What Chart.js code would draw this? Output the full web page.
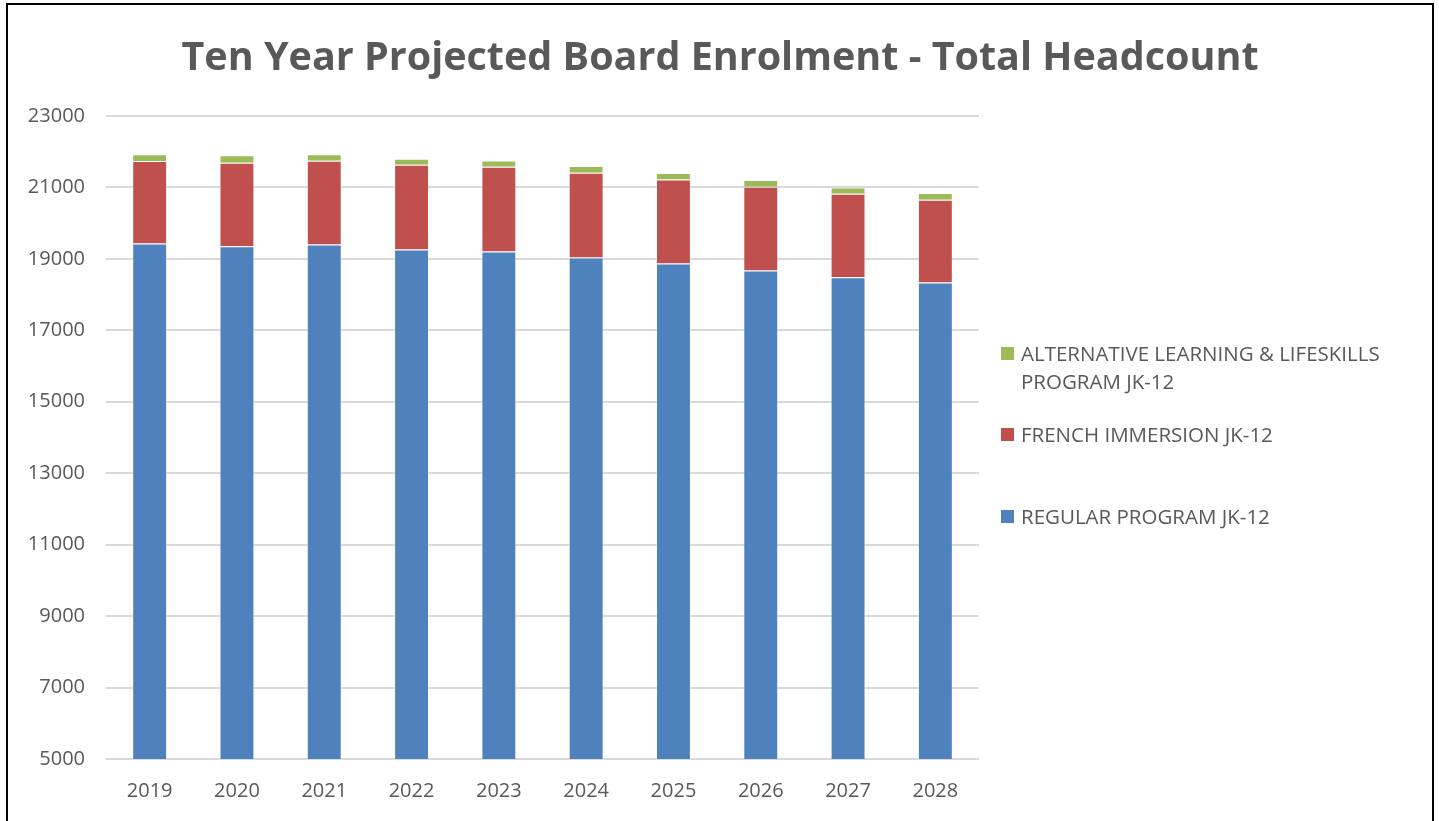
<!DOCTYPE html>
<html>
<head>
<meta charset="utf-8">
<script src="https://cdn.jsdelivr.net/npm/chart.js@4.4.1/dist/chart.umd.min.js"></script>
<style>
    body { margin: 0; background: #fff; overflow: hidden; }
    #frame {
        position: absolute; left: 6px; top: 3px;
        width: 1424px; height: 830px;
        border: 2px solid #000;
    }
    #chart { display: block; }
    .legend-item {
        position: absolute; left: 993px;
        display: flex; align-items: flex-start;
        font-family: "Open Sans", sans-serif; font-size: 20.5px;
        line-height: 28px; color: #595959;
    }
    .legend-box { width: 13px; height: 13px; margin-top: 8px; margin-right: 7px; flex: none; }
    .legend-text { width: 390px; }
</style>
</head>
<body>
<div id="frame">
    <canvas id="chart" width="1424" height="816"></canvas>
</div>
<script>
const years = ['2019', '2020', '2021', '2022', '2023', '2024', '2025', '2026', '2027', '2028'];
const regularProgram = [19430, 19355, 19400, 19260, 19205, 19040, 18870, 18673, 18486, 18337];
const frenchImmersion = [2308, 2336, 2345, 2375, 2373, 2370, 2355, 2345, 2335, 2316];
const alternativeLearning = [188, 207, 187, 168, 179, 188, 177, 187, 180, 188];
const seriesNames = ['REGULAR PROGRAM JK-12', 'FRENCH IMMERSION JK-12', 'ALTERNATIVE LEARNING & LIFESKILLS PROGRAM JK-12'];
const seriesColors = ['#4F81BD', '#C0504D', '#9BBB59'];
const yTicks = [5000, 7000, 9000, 11000, 13000, 15000, 17000, 19000, 21000, 23000];
const chartTitle = 'Ten Year Projected Board Enrolment - Total Headcount';

const textColor = '#595959';
const tickFont = { family: '"Open Sans", sans-serif', size: 20 };

// title centred over the whole canvas, not only the plot + padding
const centeredTitle = {
    id: 'centeredTitle',
    afterDraw(chart) {
        const ctx = chart.ctx;
        ctx.save();
        ctx.font = 'bold 39.5px "Open Sans", sans-serif';
        ctx.fillStyle = textColor;
        ctx.textAlign = 'center';
        ctx.textBaseline = 'alphabetic';
        ctx.fillText(chartTitle, chart.width / 2, 65);
        ctx.restore();
    }
};

const chart = new Chart(document.getElementById('chart'), {
    type: 'bar',
    data: {
        labels: years,
        datasets: [regularProgram, frenchImmersion, alternativeLearning].map((values, i) => ({
            label: seriesNames[i],
            data: values,
            backgroundColor: seriesColors[i],
            borderColor: 'rgba(255,255,255,0.35)',
            borderWidth: 1,
            barPercentage: 0.4,
            categoryPercentage: 1
        }))
    },
    options: {
        responsive: false,
        animation: false,
        layout: {
            padding: { left: 0, right: 453, top: 111, bottom: 0 }
        },
        plugins: {
            legend: { display: false },
            tooltip: { enabled: false },
            title: { display: false }
        },
        scales: {
            x: {
                stacked: true,
                grid: { display: false, drawTicks: false },
                border: { display: false },
                ticks: { color: textColor, font: tickFont, padding: 20 },
                afterFit: (scale) => { scale.height = 62; }
            },
            y: {
                stacked: true,
                min: 5000,
                max: 23000,
                afterBuildTicks: (scale) => { scale.ticks = yTicks.map(v => ({ value: v })); },
                grid: { color: '#D9D9D9', lineWidth: 2, drawTicks: false },
                border: { display: false },
                ticks: { color: textColor, font: tickFont, padding: 21, callback: (v) => String(v) },
                afterFit: (scale) => { scale.width = 98; }
            }
        }
    },
    plugins: [centeredTitle]
});

// legend on the right, top-to-bottom in reverse series order
const legendTops = [334, 415, 497];
const frame = document.getElementById('frame');
chart.data.datasets.slice().reverse().forEach((ds, i) => {
    const item = document.createElement('div');
    item.className = 'legend-item';
    item.style.top = legendTops[i] + 'px';
    item.innerHTML = '<span class="legend-box" style="background:' + ds.backgroundColor + '"></span>' +
        '<span class="legend-text">' + ds.label.replace('&', '&amp;') + '</span>';
    frame.appendChild(item);
});
</script>
</body>
</html>
